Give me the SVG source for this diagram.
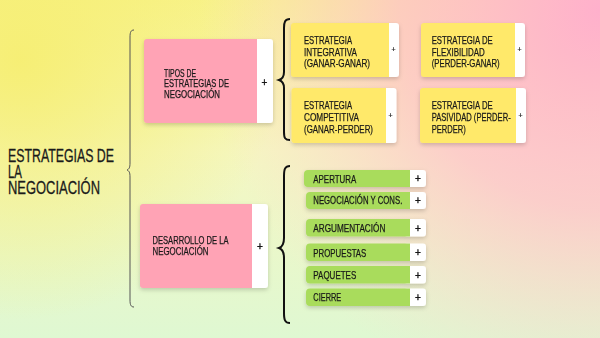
<svg xmlns="http://www.w3.org/2000/svg" width="600" height="338" viewBox="0 0 600 338">
<defs>
<linearGradient id="bg" x1="0" y1="0" x2="0" y2="1">
<stop offset="0" stop-color="#f8f38e"/>
<stop offset="0.45" stop-color="#f5f7c2"/>
<stop offset="1" stop-color="#dff8d2"/>
</linearGradient>
<radialGradient id="pink" cx="600" cy="10" r="400" gradientUnits="userSpaceOnUse">
<stop offset="0" stop-color="#ffb0cc" stop-opacity="1"/>
<stop offset="0.5" stop-color="#ffc0cc" stop-opacity="0.75"/>
<stop offset="1" stop-color="#ffd6cc" stop-opacity="0"/>
</radialGradient>
<radialGradient id="yel" cx="20" cy="60" r="260" gradientUnits="userSpaceOnUse">
<stop offset="0" stop-color="#f6ee70" stop-opacity="0.9"/>
<stop offset="1" stop-color="#f6ee70" stop-opacity="0"/>
</radialGradient>
<filter id="sh" x="-20%" y="-20%" width="140%" height="150%">
<feDropShadow dx="0" dy="2" stdDeviation="2" flood-color="#000" flood-opacity="0.18"/>
</filter>
</defs>
<style>
text{font-family:"Liberation Sans Narrow","Liberation Sans",Arial,sans-serif;fill:#1a1a1a;stroke:#1a1a1a;stroke-width:0.25}
.t{font-size:18px;stroke-width:0.3}
.p{font-size:10px}
.y{font-size:10.5px}
.g{font-size:10.5px}
.pl{font-size:10px;text-anchor:middle;stroke-width:0.4}
.ps{font-size:7px;text-anchor:middle;stroke-width:0.2}
.pk{fill:#ffa3b5}
.yl{fill:#ffe96a}
.gr{fill:#a9dc5c}
.wh{fill:#ffffff}
.br{fill:none;stroke:#111;stroke-width:2}
.bt{fill:none;stroke:#555;stroke-width:1}
</style>
<rect width="600" height="338" fill="url(#bg)"/>
<rect width="600" height="338" fill="url(#yel)"/>
<rect width="600" height="338" fill="url(#pink)"/>

<g id="connectors">
<path class="bt" d="M134,30 C131,30 130,32 130,37 L130,163 C130,168 129,169 127,170 C129,171 130,172 130,177 L130,300 C130,305 131,307 134,307"/>
<path class="br" d="M290,19 C285,19 284,22 284,28 L284,72 C284,77 282,79 279,80 C282,81 284,83 284,88 L284,132 C284,138 285,140 290,140"/>
<path class="br" d="M290,166 C285,166 284,169 284,176 L284,238 C284,244 282,247 279,248 C282,249 284,252 284,258 L284,313 C284,320 285,323 290,323"/>
</g>

<g id="title">
<text class="t" x="8" y="162" textLength="106" lengthAdjust="spacingAndGlyphs">ESTRATEGIAS DE</text>
<text class="t" x="8" y="177.5" textLength="14" lengthAdjust="spacingAndGlyphs">LA</text>
<text class="t" x="8" y="194" textLength="92" lengthAdjust="spacingAndGlyphs">NEGOCIACIÓN</text>
</g>

<g id="tipos" filter="url(#sh)">
<rect class="wh" x="250" y="39" width="23" height="84" rx="3"/>
<path class="pk" d="M147,39 H257 V123 H147 Q144,123 144,120 V42 Q144,39 147,39 Z"/>
<text class="p" x="164" y="76.7" textLength="32" lengthAdjust="spacingAndGlyphs">TIPOS DE</text>
<text class="p" x="164" y="87.2" textLength="65" lengthAdjust="spacingAndGlyphs">ESTRATEGIAS DE</text>
<text class="p" x="164" y="97.7" textLength="56" lengthAdjust="spacingAndGlyphs">NEGOCIACIÓN</text>
<text class="pl" x="264.5" y="85.5">+</text>
</g>

<g id="desarrollo" filter="url(#sh)">
<rect class="wh" x="245" y="204" width="23" height="84" rx="3"/>
<path class="pk" d="M143,204 H252 V288 H143 Q140,288 140,285 V207 Q140,204 143,204 Z"/>
<text class="p" x="152.5" y="244" textLength="76" lengthAdjust="spacingAndGlyphs">DESARROLLO DE LA</text>
<text class="p" x="152.5" y="255" textLength="56" lengthAdjust="spacingAndGlyphs">NEGOCIACIÓN</text>
<text class="pl" x="260" y="250">+</text>
</g>

<g id="integrativa" filter="url(#sh)">
<rect class="wh" x="383" y="23" width="16" height="54" rx="3"/>
<path class="yl" d="M294,23 H389 V77 H294 Q291,77 291,74 V26 Q291,23 294,23 Z"/>
<text class="y" x="304" y="44.3" textLength="48" lengthAdjust="spacingAndGlyphs">ESTRATEGIA</text>
<text class="y" x="304" y="56" textLength="53" lengthAdjust="spacingAndGlyphs">INTEGRATIVA</text>
<text class="y" x="304" y="67.3" textLength="66" lengthAdjust="spacingAndGlyphs">(GANAR-GANAR)</text>
<text class="ps" x="393.5" y="52">+</text>
</g>

<g id="flexibilidad" filter="url(#sh)">
<rect class="wh" x="509" y="23" width="16" height="54" rx="3"/>
<path class="yl" d="M424,23 H515 V77 H424 Q421,77 421,74 V26 Q421,23 424,23 Z"/>
<text class="y" x="431.7" y="44.3" textLength="61" lengthAdjust="spacingAndGlyphs">ESTRATEGIA DE</text>
<text class="y" x="431.7" y="56" textLength="53" lengthAdjust="spacingAndGlyphs">FLEXIBILIDAD</text>
<text class="y" x="431.7" y="67.3" textLength="68" lengthAdjust="spacingAndGlyphs">(PERDER-GANAR)</text>
<text class="ps" x="519.5" y="52">+</text>
</g>

<g id="competitiva" filter="url(#sh)">
<rect class="wh" x="380" y="88" width="16.5" height="55" rx="3"/>
<path class="yl" d="M294.5,88 H386 V143 H294.5 Q291.5,143 291.5,140 V91 Q291.5,88 294.5,88 Z"/>
<text class="y" x="304" y="109.3" textLength="48" lengthAdjust="spacingAndGlyphs">ESTRATEGIA</text>
<text class="y" x="304" y="121" textLength="55" lengthAdjust="spacingAndGlyphs">COMPETITIVA</text>
<text class="y" x="304" y="132.5" textLength="69" lengthAdjust="spacingAndGlyphs">(GANAR-PERDER)</text>
<text class="ps" x="390.5" y="118">+</text>
</g>

<g id="pasividad" filter="url(#sh)">
<rect class="wh" x="510" y="88" width="16" height="55" rx="3"/>
<path class="yl" d="M423,88 H516 V143 H423 Q420,143 420,140 V91 Q420,88 423,88 Z"/>
<text class="y" x="431.7" y="109.3" textLength="61" lengthAdjust="spacingAndGlyphs">ESTRATEGIA DE</text>
<text class="y" transform="translate(431.7,121) scale(0.75,1)" textLength="105.3" lengthAdjust="spacingAndGlyphs">PASIVIDAD (PERDER-</text>
<text class="y" x="431.7" y="132.5" textLength="34" lengthAdjust="spacingAndGlyphs">PERDER)</text>
<text class="ps" x="520.5" y="118">+</text>
</g>

<g id="apertura" filter="url(#sh)">
<rect class="wh" x="404" y="170" width="22" height="17" rx="3"/>
<path class="gr" d="M308,170 H410 V187 H308 Q304,187 304,183 V174 Q304,170 308,170 Z"/>
<text class="g" x="313.3" y="182.7" textLength="43" lengthAdjust="spacingAndGlyphs">APERTURA</text>
<text class="pl" x="418" y="182">+</text>
</g>

<g id="negociacion" filter="url(#sh)">
<rect class="wh" x="404" y="192" width="22" height="17" rx="3"/>
<path class="gr" d="M310,192 H410 V209 H310 Q306,209 306,205 V196 Q306,192 310,192 Z"/>
<text class="g" transform="translate(313.3,204) scale(0.8,1)" textLength="111.25" lengthAdjust="spacingAndGlyphs">NEGOCIACIÓN Y CONS.</text>
<text class="pl" x="418" y="204">+</text>
</g>

<g id="argumentacion" filter="url(#sh)">
<rect class="wh" x="404" y="219" width="22" height="17.5" rx="3"/>
<path class="gr" d="M310,219 H410 V236.5 H310 Q306,236.5 306,232.5 V223 Q306,219 310,219 Z"/>
<text class="g" x="313.3" y="231.7" textLength="72" lengthAdjust="spacingAndGlyphs">ARGUMENTACIÓN</text>
<text class="pl" x="418" y="231.5">+</text>
</g>

<g id="propuestas" filter="url(#sh)">
<rect class="wh" x="404" y="243.5" width="22" height="17.5" rx="3"/>
<path class="gr" d="M310,243.5 H410 V261 H310 Q306,261 306,257 V247.5 Q306,243.5 310,243.5 Z"/>
<text class="g" x="313.3" y="256.5" textLength="53" lengthAdjust="spacingAndGlyphs">PROPUESTAS</text>
<text class="pl" x="418" y="256">+</text>
</g>

<g id="paquetes" filter="url(#sh)">
<rect class="wh" x="404" y="266" width="22" height="17.5" rx="3"/>
<path class="gr" d="M310,266 H410 V283.5 H310 Q306,283.5 306,279.5 V270 Q306,266 310,266 Z"/>
<text class="g" x="313.3" y="279" textLength="43" lengthAdjust="spacingAndGlyphs">PAQUETES</text>
<text class="pl" x="418" y="278.5">+</text>
</g>

<g id="cierre" filter="url(#sh)">
<rect class="wh" x="404" y="288.5" width="22" height="17.5" rx="3"/>
<path class="gr" d="M310,288.5 H410 V306 H310 Q306,306 306,302 V292.5 Q306,288.5 310,288.5 Z"/>
<text class="g" x="313.3" y="301" textLength="28" lengthAdjust="spacingAndGlyphs">CIERRE</text>
<text class="pl" x="418" y="301">+</text>
</g>
</svg>
